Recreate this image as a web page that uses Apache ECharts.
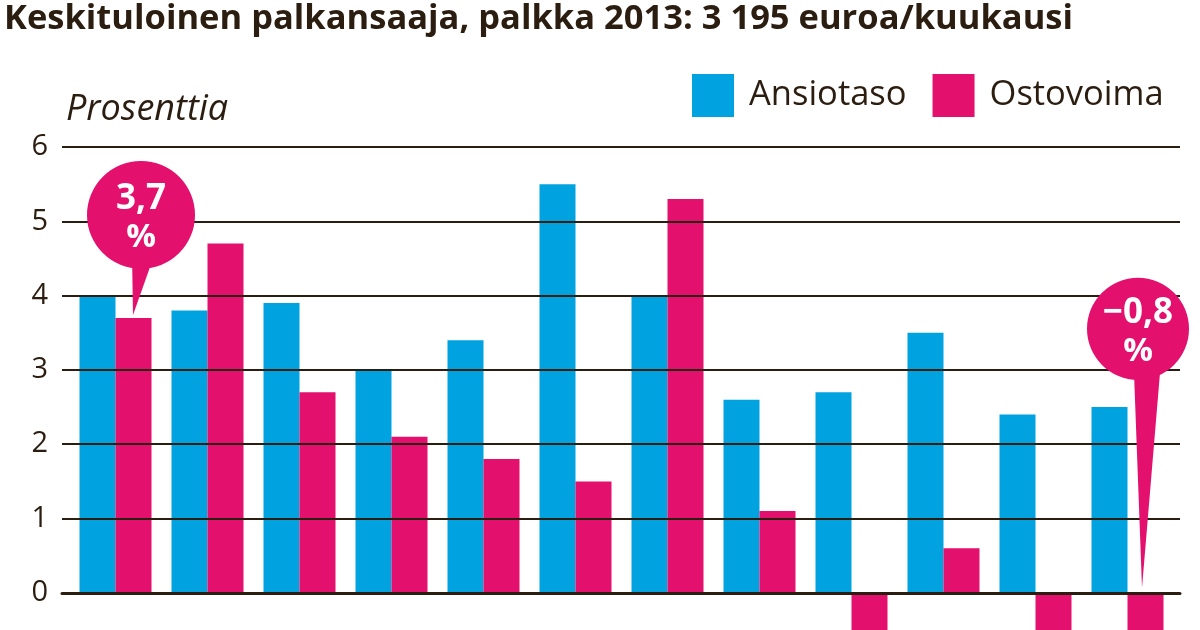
<!DOCTYPE html>
<html><head><meta charset="utf-8">
<script src="https://cdn.jsdelivr.net/npm/echarts@6/dist/echarts.min.js"></script>
<style>html,body{margin:0;padding:0;background:#fff;overflow:hidden}#c{width:1200px;height:630px}</style>
</head><body><div id="c"></div>
<script>
// Data (x-axis labels are cropped out of the reference, so groups are just numbered)
const categories = ['1','2','3','4','5','6','7','8','9','10','11','12'];
const ansiotaso = [4.0, 3.8, 3.9, 3.0, 3.4, 5.5, 4.0, 2.6, 2.7, 3.5, 2.4, 2.5];
const ostovoima = [3.7, 4.7, 2.7, 2.1, 1.8, 1.5, 5.3, 1.1, -0.6, 0.6, -0.5, -0.8];
const yTicks = [0, 1, 2, 3, 4, 5, 6];
const yVisibleMin = -0.5; // the reference is cropped just below zero
const seriesNames = ['Ansiotaso', 'Ostovoima'];
const titleText = 'Keskituloinen palkansaaja, palkka 2013: 3 195 euroa/kuukausi';
const unitText = 'Prosenttia';
const callouts = [
  { index: 0, label: '3,7' },
  { index: 11, label: '\u22120,8' }
];

const BLUE = '#00a3df', PINK = '#e3106d', INK = '#2b1d10';
const FONT = '"Open Sans", "Noto Sans", sans-serif';

const chart = echarts.init(document.getElementById('c'), null, { renderer: 'canvas' });
const yCommon = { type: 'value', min: yVisibleMin, max: yTicks[yTicks.length - 1], minInterval: 1, maxInterval: 1 };
chart.setOption({
  animation: false,
  backgroundColor: '#fff',
  title: {
    text: titleText, left: 4, top: 0, padding: [2, 0, 0, 0],
    textStyle: { fontFamily: FONT, fontSize: 34.5, fontWeight: 'bold', color: INK }
  },
  legend: {
    data: seriesNames, left: 692, top: 74, padding: 0, itemWidth: 42, itemHeight: 43, itemGap: 26,
    icon: 'rect',
    textStyle: { fontFamily: FONT, fontSize: 34.5, color: INK, padding: [0, 0, 0, 10] }
  },
  grid: [
    { left: 62, right: 20, top: 147, bottom: 0 },
    { left: 69.5, right: 26.5, top: 147, bottom: 0 }
  ],
  xAxis: [
    { gridIndex: 0, type: 'value', min: 0, max: 1, z: 3,
      axisLine: { show: true, onZero: true, lineStyle: { color: INK, width: 3 } },
      axisTick: { show: false }, axisLabel: { show: false }, splitLine: { show: false } },
    { gridIndex: 1, type: 'category', data: categories, show: false }
  ],
  yAxis: [
    Object.assign({ gridIndex: 0, z: 3,
      axisLine: { show: false }, axisTick: { show: false },
      axisLabel: { fontFamily: FONT, fontSize: 29, color: INK, margin: 14,
        formatter: v => (yTicks.indexOf(v) >= 0 ? String(v) : '') },
      splitLine: { showMinLine: false, lineStyle: { color: INK, width: 2 } } }, yCommon),
    Object.assign({ gridIndex: 1, show: false }, yCommon)
  ],
  series: [
    { name: seriesNames[0], type: 'bar', xAxisIndex: 1, yAxisIndex: 1, data: ansiotaso,
      barWidth: 36, barGap: '0%', itemStyle: { color: BLUE } },
    { name: seriesNames[1], type: 'bar', xAxisIndex: 1, yAxisIndex: 1, data: ostovoima,
      barWidth: 36, barGap: '0%', itemStyle: { color: PINK } }
  ]
});

// Callout balloons anchored to the library's own bar layout
const data = chart.getModel().getSeriesByIndex(1).getData();
const shapes = [];
callouts.forEach((c, k) => {
  const l = data.getItemLayout(c.index);
  const cx = l.x + l.width / 2;
  const top = Math.min(l.y, l.y + l.height);
  let tx, ty, ccx, ccy, r, tail;
  if (k === 0) {
    tx = cx - 0.5; ty = top - 3;
    ccx = tx + 8; ccy = ty - 100; r = 54;
    tail = [[tx - 1, ty - 62], [tx + 22, ty - 62], [tx, ty]];
  } else {
    tx = cx - 3.5; ty = top - 5;
    ccx = tx - 4; ccy = ty - 259; r = 51;
    tail = [[tx - 8, ty - 215], [tx + 18, ty - 215], [tx, ty]];
  }
  shapes.push({ type: 'polygon', z: 20, shape: { points: tail }, style: { fill: PINK } });
  shapes.push({ type: 'circle', z: 20, shape: { cx: ccx, cy: ccy, r: r }, style: { fill: PINK } });
  shapes.push({ type: 'text', z: 21, x: ccx, y: ccy - 16,
    style: { text: c.label, fontFamily: FONT, fontSize: 35, fontWeight: 'bold', fill: '#fff',
      align: 'center', verticalAlign: 'middle' } });
  shapes.push({ type: 'text', z: 21, x: ccx, y: ccy + 23,
    style: { text: '%', fontFamily: FONT, fontSize: 33, fontWeight: 'bold', fill: '#fff',
      align: 'center', verticalAlign: 'middle' } });
});
chart.setOption({ graphic: [
  { type: 'text', left: 66, top: 92, z: 10,
    style: { text: unitText, fontFamily: FONT, fontSize: 36, fontStyle: 'italic', fill: INK } }
].concat(shapes) });
</script></body></html>
